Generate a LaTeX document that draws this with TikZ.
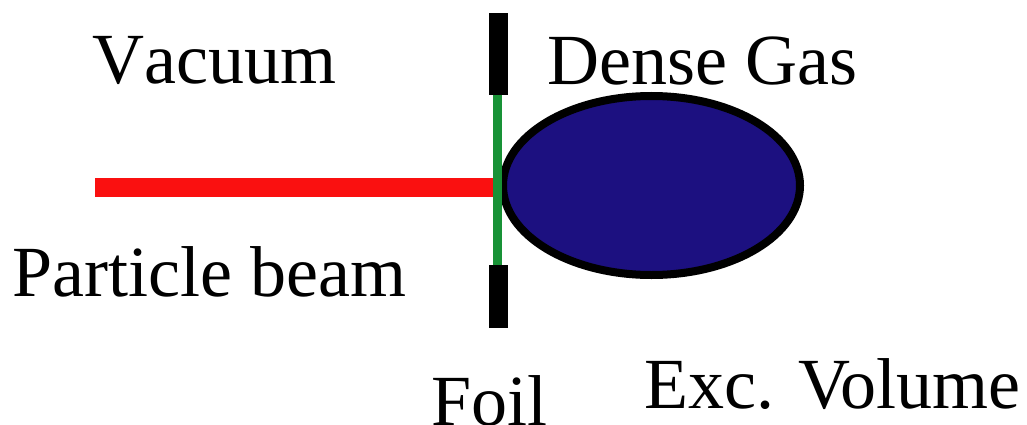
\documentclass[tikz,border=0pt]{standalone}
\usepackage{fontspec}
\setmainfont{Liberation Serif}
\newfontfamily\labelfont{Liberation Serif}
\newfontfamily\labelfontnk{Liberation Serif}[Kerning=Off]
\usetikzlibrary{shapes.geometric}
\definecolor{beamred}{RGB}{250,16,16}
\definecolor{foilgreen}{RGB}{24,146,54}
\definecolor{gasblue}{RGB}{28,16,128}
\begin{document}
\begin{tikzpicture}[x=1pt,y=-1pt,
  lbl/.style={anchor=base west,inner sep=0pt,font=\labelfont\fontsize{72}{80}\selectfont},
  lblnk/.style={lbl,font=\labelfontnk\fontsize{72}{80}\selectfont},
  bar/.style={fill=black,inner sep=0pt,minimum width=19pt},
]
\useasboundingbox (0,0) rectangle (1027,425);
% labels
\node[lblnk] (vac) at (92,84) {Vacuum};
\node[lbl] (dense) at (547,85) {Dense Gas};
\node[lbl] (pb) at (12,296) {Particle beam};
\node[lbl] (foil) at (431,425) {Foil};
\node[lbl] (exc) at (644,408) {Exc. Volume};
% gas volume
\node[ellipse,draw=black,line width=8pt,fill=gasblue,inner sep=0pt,
  minimum width=297pt,minimum height=179pt] (gas) at (651.5,185.5) {};
% beam
\coordinate (beamstart) at (95,187.5);
\coordinate (beamend) at (493,187.5);
\draw[beamred,line width=19pt] (beamstart) -- (beamend);
% foil and holders
\node[bar,minimum height=82pt] (topbar) at (498.5,54) {};
\node[bar,minimum height=63pt] (botbar) at (498.5,296.5) {};
\coordinate (foiltop) at (497.5,95);
\coordinate (foilbot) at (497.5,265);
\draw[foilgreen,line width=9pt] (foiltop) -- (foilbot);
\end{tikzpicture}
\end{document}
